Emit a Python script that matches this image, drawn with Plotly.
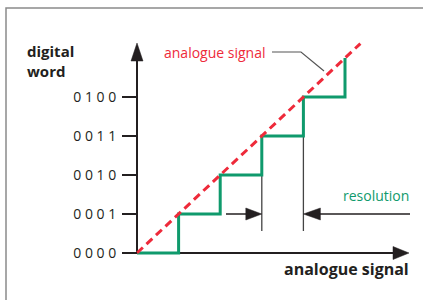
import plotly.graph_objects as go

# ---- data ----
levels = [0, 1, 2, 3, 4]
tick_labels = ["0 0 0 0", "0 0 0 1", "0 0 1 0", "0 0 1 1", "0 1 0 0"]
step_x = [0, 1, 1, 2, 2, 3, 3, 4, 4, 5, 5]
step_y = [0, 0, 1, 1, 2, 2, 3, 3, 4, 4, 5]
analog_x = [0, 5.37]
analog_y = [0, 5.37]
res_marks = [3, 4]          # x positions of the resolution marker lines
res_tops = [2, 3]           # the step level each marker starts from
res_level = 1               # height of the resolution arrows

# ---- geometry (pixel scale of the data units) ----
W, H = 423, 300
OX, OY = 137, 253           # pixel position of the origin
SX, SY = 41.6, 39.0         # pixels per unit
xr = [-OX / SX, (W - OX) / SX]
yr = [-(H - OY) / SY, OY / SY]

INK = "#231f20"
GREEN = "#0f9a6c"
RED = "#ee2a3a"


def px_x(p):
    return (p - OX) / SX


def px_y(p):
    return (OY - p) / SY


def tri(tx, ty, direction, length, half):
    """filled triangle: tip at data (tx,ty), length/half in pixels"""
    L, h = length, half
    if direction == "up":
        xs = [tx, tx - h / SX, tx + h / SX, tx]
        ys = [ty, ty - L / SY, ty - L / SY, ty]
    elif direction == "right":
        xs = [tx, tx - L / SX, tx - L / SX, tx]
        ys = [ty, ty + h / SY, ty - h / SY, ty]
    else:  # left
        xs = [tx, tx + L / SX, tx + L / SX, tx]
        ys = [ty, ty + h / SY, ty - h / SY, ty]
    return xs, ys


fig = go.Figure()

y_tip = px_y(43)
x_tip = px_x(409)

# axes lines
fig.add_trace(go.Scatter(x=[0, 0], y=[0, y_tip - 10 / SY], mode="lines",
                         line=dict(color=INK, width=2), hoverinfo="skip"))
fig.add_trace(go.Scatter(x=[0, x_tip - 10 / SX], y=[0, 0], mode="lines",
                         line=dict(color=INK, width=2), hoverinfo="skip"))
for (xs, ys) in [tri(0, y_tip, "up", 18, 6), tri(x_tip, 0, "right", 16, 6.5)]:
    fig.add_trace(go.Scatter(x=xs, y=ys, mode="lines", fill="toself",
                             fillcolor=INK, line=dict(color=INK, width=0.5),
                             hoverinfo="skip"))

# resolution marker lines
for xm, top in zip(res_marks, res_tops):
    fig.add_trace(go.Scatter(x=[xm, xm], y=[top, px_y(231)], mode="lines",
                             line=dict(color="#444444", width=1.3),
                             hoverinfo="skip"))

# resolution arrows
fig.add_trace(go.Scatter(x=[px_x(226), res_marks[0] - 10 / SX],
                         y=[res_level, res_level], mode="lines",
                         line=dict(color=INK, width=1.5), hoverinfo="skip"))
fig.add_trace(go.Scatter(x=[res_marks[1] + 10 / SX, px_x(410)],
                         y=[res_level, res_level], mode="lines",
                         line=dict(color=INK, width=1.5), hoverinfo="skip"))
for (xs, ys) in [tri(res_marks[0], res_level, "right", 16, 6),
                 tri(res_marks[1], res_level, "left", 17, 6)]:
    fig.add_trace(go.Scatter(x=xs, y=ys, mode="lines", fill="toself",
                             fillcolor=INK, line=dict(color=INK, width=0.5),
                             hoverinfo="skip"))

# digital staircase
fig.add_trace(go.Scatter(x=step_x, y=step_y, mode="lines",
                         line=dict(color=GREEN, width=3), hoverinfo="skip"))
# analogue signal
fig.add_trace(go.Scatter(x=analog_x, y=analog_y, mode="lines",
                         line=dict(color=RED, width=3, dash="8px,5px"),
                         hoverinfo="skip"))

# leader line for the analogue signal label
fig.add_shape(type="path", xref="x", yref="y",
              path=f"M {px_x(272)},{px_y(52)} L {px_x(301)},{px_y(52)} L {px_x(324)},{px_y(71)}",
              line=dict(color="#555555", width=1.2))

# frame
fig.add_shape(type="rect", xref="paper", yref="paper",
              x0=6 / W, x1=1.05, y0=-0.05, y1=1 - 8 / H,
              line=dict(color="#8a8a8a", width=1.5))

FONT = "Open Sans"
anns = [
    dict(text="<b>digital<br>word</b>", x=25 / W, y=1 - 61.5 / H, xanchor="left",
         yanchor="middle", align="left", font=dict(size=15, color=INK, family=FONT)),
    dict(text="analogue signal", x=268 / W, y=1 - 52 / H, xanchor="right",
         yanchor="middle", font=dict(size=14, color=RED, family=FONT)),
    dict(text="resolution", x=411 / W, y=1 - 195 / H, xanchor="right",
         yanchor="middle", font=dict(size=14, color=GREEN, family=FONT)),
    dict(text="<b>analogue signal</b>", x=411 / W, y=1 - 269 / H, xanchor="right",
         yanchor="middle", font=dict(size=16, color=INK, family=FONT)),
]
for a in anns:
    fig.add_annotation(xref="paper", yref="paper", showarrow=False, **a)

fig.update_layout(
    width=W, height=H, margin=dict(l=0, r=0, t=0, b=0),
    paper_bgcolor="white", plot_bgcolor="white", showlegend=False,
    xaxis=dict(range=xr, domain=[0, 1], visible=False, fixedrange=True),
    yaxis=dict(range=yr, domain=[0, 1], anchor="free", position=OX / W,
               showline=False, showgrid=False, zeroline=False,
               ticks="outside", ticklen=15, tickwidth=1.5, tickcolor=INK,
               tickvals=levels, ticktext=tick_labels, ticklabelstandoff=3,
               tickfont=dict(size=14, color=INK, family=FONT),
               fixedrange=True),
)

fig.write_html("out.html", config={"displayModeBar": False},
               post_script="document.body.style.margin='0';document.body.style.overflow='hidden';")
